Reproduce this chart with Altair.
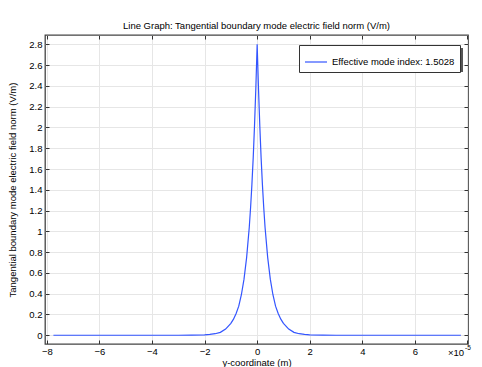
import altair as alt
import pandas as pd

# y-coordinate in units of 1e-5 m
y_coord = [-7.75, -6.0, -4.0, -3.0, -2.5, -2.0, -1.8, -1.6, -1.4, -1.2, -1.0, -0.9, -0.8,
           -0.7, -0.6, -0.5, -0.4, -0.3, -0.25, -0.2, -0.15, -0.1, -0.05, 0.0,
           0.05, 0.1, 0.15, 0.2, 0.25, 0.3, 0.4, 0.5, 0.6, 0.7, 0.8, 0.9, 1.0,
           1.2, 1.4, 1.6, 1.8, 2.0, 2.5, 3.0, 4.0, 6.0, 7.75]
e_norm = [0.0, 0.0, 0.0, 0.0, 0.001, 0.004, 0.008, 0.015, 0.028, 0.06, 0.115, 0.155, 0.21,
          0.28, 0.39, 0.54, 0.75, 1.04, 1.23, 1.45, 1.71, 2.02, 2.38, 2.80,
          2.38, 2.02, 1.71, 1.45, 1.23, 1.04, 0.75, 0.54, 0.39, 0.28, 0.21, 0.155, 0.115,
          0.06, 0.028, 0.015, 0.008, 0.004, 0.001, 0.0, 0.0, 0.0, 0.0]
series_name = "Effective mode index: 1.5028"
x_ticks = [-8, -6, -4, -2, 0, 2, 4, 6, 8]
y_ticks = [0, 0.2, 0.4, 0.6, 0.8, 1.0, 1.2, 1.4, 1.6, 1.8, 2.0, 2.2, 2.4, 2.6, 2.8]

df = pd.DataFrame({"y": y_coord, "E": e_norm, "series": series_name})
one = pd.DataFrame({"k": [0]})

FONT = "Liberation Sans"
FS = 9.5
xs = alt.Scale(domain=[-8.07, 8.02], nice=False, zero=False)
ys = alt.Scale(domain=[-0.084, 2.89], nice=False, zero=False)

line = alt.Chart(df).mark_line(strokeWidth=1.2, clip=True).encode(
    x=alt.X("y:Q", scale=xs,
            axis=alt.Axis(values=x_ticks, title="y-coordinate (m)", orient="bottom",
                          offset=-4, tickSize=4, domain=False, grid=True, format="~g",
                          gridColor="#e6e6e6", tickColor="#333", labelPadding=2,
                          labelExpr="datum.value == 8 ? '' : datum.label",
                          labelFontSize=FS, labelFont=FONT, labelColor="#000",
                          titleFontSize=FS, titleFont=FONT, titleFontWeight="normal",
                          titleColor="#000", titleY=22, titleBaseline="middle")),
    y=alt.Y("E:Q", scale=ys,
            axis=alt.Axis(values=y_ticks, title="Tangential boundary mode electric field norm (V/m)",
                          orient="left", offset=-4, tickSize=4, domain=False, grid=True,
                          format="~g",
                          gridColor="#e6e6e6", tickColor="#333", labelPadding=3,
                          labelFontSize=FS, labelFont=FONT, labelColor="#000",
                          titleFontSize=FS, titleFont=FONT, titleFontWeight="normal",
                          titleColor="#000", titleX=-37, titleBaseline="middle")),
    color=alt.Color("series:N",
                    scale=alt.Scale(domain=[series_name], range=["#3355ff"]),
                    legend=alt.Legend(title=None, orient="none", legendX=254, legendY=10,
                                      symbolType="stroke", symbolSize=484, symbolStrokeWidth=1.2,
                                      strokeColor="#333", fillColor="white", padding=5,
                                      labelFontSize=FS, labelFont=FONT, labelColor="#000",
                                      labelOffset=4)),
)

frame_ticks = alt.Chart(df).mark_line(opacity=0).encode(
    x=alt.X("y:Q", scale=xs,
            axis=alt.Axis(values=x_ticks, title=None, orient="top", offset=-4, tickSize=4,
                          domain=False, grid=False, labels=False, tickColor="#333")),
    y=alt.Y("E:Q", scale=ys,
            axis=alt.Axis(values=y_ticks, title=None, orient="right", offset=-4, tickSize=4,
                          domain=False, grid=False, labels=False, tickColor="#333")),
)

shadow = alt.Chart(one).mark_rect(color="#555").encode(
    x=alt.value(257), x2=alt.value(418), y=alt.value(13), y2=alt.value(37)
)

exp_base = alt.Chart(one).mark_text(text="×10", fontSize=FS, font=FONT, color="#000").encode(
    x=alt.value(411), y=alt.value(318)
)
exp_sup = alt.Chart(one).mark_text(text="-5", fontSize=6.5, font=FONT, color="#000").encode(
    x=alt.value(423), y=alt.value(313)
)

chart = alt.layer(shadow, line, frame_ticks, exp_base, exp_sup).resolve_axis(
    x="independent", y="independent"
).properties(
    width=423, height=309,
    padding={"left": 37, "top": 27, "right": 6, "bottom": 23},
    autosize=alt.AutoSizeParams(type="none"),
    title=alt.TitleParams("Line Graph: Tangential boundary mode electric field norm (V/m)",
                          fontSize=FS, font=FONT, fontWeight="normal", color="#000",
                          anchor="middle", offset=4),
).configure_view(stroke="#444", strokeWidth=1.3)

chart.save("out.html", embed_options={"renderer": "svg", "actions": False})
